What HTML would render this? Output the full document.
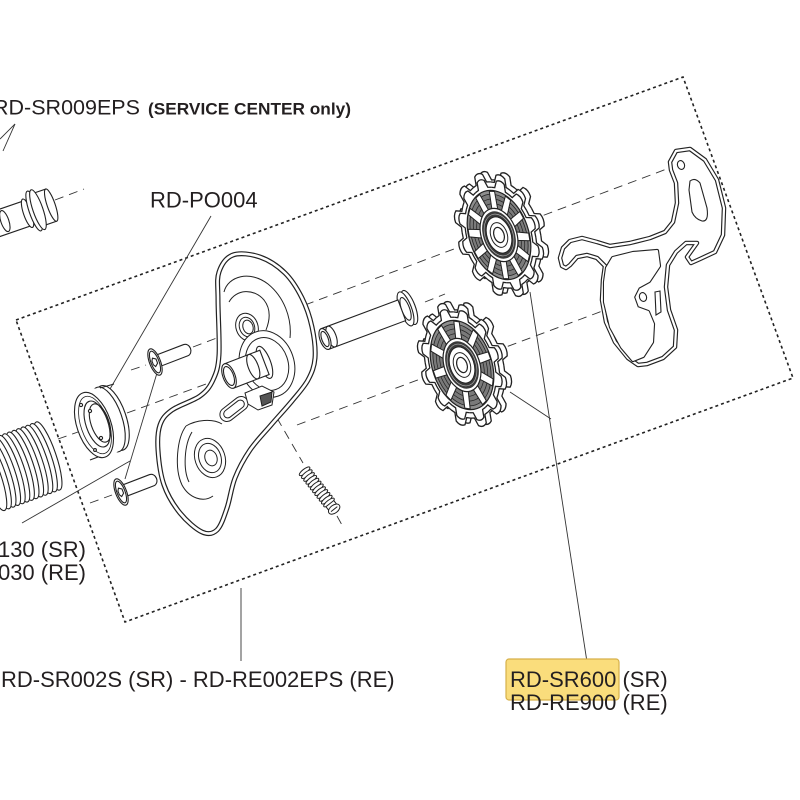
<!DOCTYPE html>
<html><head><meta charset="utf-8">
<style>
html,body{margin:0;padding:0;background:#fff;}
svg{display:block;}
svg *{vector-effect:non-scaling-stroke;}
text{font-family:"Liberation Sans",Arial,sans-serif;fill:#231f20;}
</style></head><body>
<svg width="800" height="800" viewBox="0 0 800 800" xmlns="http://www.w3.org/2000/svg">
<defs>
 <path id="tooth" d="M-14.49,-54.09 L-8.76,-55.31 L-6.5,-64 Q0,-68 6.5,-64 L8.76,-55.31 L14.49,-54.09"/>
 <g id="gear" fill="#fff" stroke="#222" stroke-width="1.3">
  <circle r="55.5" stroke="none"/>
  <use href="#tooth"/>
  <use href="#tooth" transform="rotate(30)"/>
  <use href="#tooth" transform="rotate(60)"/>
  <use href="#tooth" transform="rotate(90)"/>
  <use href="#tooth" transform="rotate(120)"/>
  <use href="#tooth" transform="rotate(150)"/>
  <use href="#tooth" transform="rotate(180)"/>
  <use href="#tooth" transform="rotate(210)"/>
  <use href="#tooth" transform="rotate(240)"/>
  <use href="#tooth" transform="rotate(270)"/>
  <use href="#tooth" transform="rotate(300)"/>
  <use href="#tooth" transform="rotate(330)"/>
 </g>
 <path id="spoke" d="M-4.5,-26 L-4,-46 L4,-46 L4.5,-26 Z"/>
 <g id="hub">
  <circle r="28" fill="#fff" stroke="#222" stroke-width="1.2"/>
  <circle r="25" fill="#3a3a3a"/>
  <circle r="22" fill="none" stroke="#bbb" stroke-width="0.6"/>
  <circle r="19" fill="#fff" stroke="#222" stroke-width="1"/>
  <circle r="13" fill="#fff" stroke="#222" stroke-width="1"/>
  <circle r="8" fill="#fff" stroke="#222" stroke-width="1.2"/>
 </g>
 <g id="pocket">
  <circle r="47" fill="#8e8e8e" stroke="#222" stroke-width="1.2"/>
  <circle r="43" fill="#7a7a7a" stroke="#222" stroke-width="0.8"/>
  <circle r="38" fill="none" stroke="#222" stroke-width="0.7"/>
  <circle r="33" fill="none" stroke="#222" stroke-width="0.7"/>
 </g>
 <g id="pu12">
  <use href="#gear"/>
  <use href="#gear" transform="scale(0.9)"/>
  <use href="#pocket"/>
  <g fill="#fff" stroke="#222" stroke-width="1">
   <use href="#spoke" transform="rotate(15)"/><use href="#spoke" transform="rotate(45)"/>
   <use href="#spoke" transform="rotate(75)"/><use href="#spoke" transform="rotate(105)"/>
   <use href="#spoke" transform="rotate(135)"/><use href="#spoke" transform="rotate(165)"/>
   <use href="#spoke" transform="rotate(195)"/><use href="#spoke" transform="rotate(225)"/>
   <use href="#spoke" transform="rotate(255)"/><use href="#spoke" transform="rotate(285)"/>
   <use href="#spoke" transform="rotate(315)"/><use href="#spoke" transform="rotate(345)"/>
  </g>
  <use href="#hub"/>
 </g>
 <g id="pu10">
  <use href="#gear"/>
  <use href="#gear" transform="scale(0.9)"/>
  <use href="#pocket"/>
  <g fill="#fff" stroke="#222" stroke-width="1">
   <use href="#spoke" transform="rotate(18)"/><use href="#spoke" transform="rotate(54)"/>
   <use href="#spoke" transform="rotate(90)"/><use href="#spoke" transform="rotate(126)"/>
   <use href="#spoke" transform="rotate(162)"/><use href="#spoke" transform="rotate(198)"/>
   <use href="#spoke" transform="rotate(234)"/><use href="#spoke" transform="rotate(270)"/>
   <use href="#spoke" transform="rotate(306)"/><use href="#spoke" transform="rotate(342)"/>
  </g>
  <use href="#hub"/>
 </g>
 <path id="plate" d="M233,255 C239.83,252.5 251.33,254 260,257 S278,266.17 285,273 S297.5,289 302,298 S309.83,317 312,327 S315.67,349.17 315,358 S311.83,372.83 308,380 S298.17,393.5 292,401 S278,416.83 271,425 S256,441.17 250,450 S238.83,468.33 235,478 S230,499.33 227,508 S221.17,526 217,530 S208.17,534.83 202,532 S186.33,520.83 180,513 S167.67,495.5 164,485 S158.67,460 158,450 S157.67,431.67 160,425 S165.33,414.83 172,410 S193.17,401 200,396 S209.83,386.83 213,380 S218.17,368.33 219,355 S218,313.83 218,300 S216.5,279.5 219,272 S226.17,257.5 233,255 Z"/>
 <path id="outer" d="M670,162 L676,151 L690,149 L705,160 L717,180 L724,208 L723,235 L715,252 L700,259 L691,263 L687,257 L697,243 L686,243 L676,252 L668,265 L666,287 L669,310 L676,330 L675,347 L663,358 L647,364 L638,365 L628,358 L615,342 L606,322 L602,300 L603,280 L605,266 L597,258 L587,255 L577,257 L570,265 L566,268 L562,266 L560,258 L563,248 L570,241 L582,238 L597,242 L610,246 L630,243 L650,238 L665,232 L673,222 L677,203 L676,183 L671,170 Z"/>
 <path id="opening" d="M607,268 L613,258 L633,253 L657,251 L659,266 L649,281 L638,287 L633,297 L637,308 L648,312 L653,324 L652,342 L643,356 L633,360 L622,347 L611,327 L605,302 L605,282 Z"/>
</defs>

<!-- dotted box -->
<polygon points="16,320 683,77 793,378 125,622" fill="none" stroke="#222" stroke-width="1.6" stroke-dasharray="3 3"/>

<!-- dashed axes -->
<g stroke="#333" stroke-width="0.9" stroke-dasharray="9 6" fill="none">
 <path d="M55,200 L84,189"/>
 <path d="M131,370 L146,365"/>
 <path d="M193,347 L222,336"/>
 <path d="M305,305 L680,164"/>
 <path d="M58,439 L78,432"/>
 <path d="M127,413 L217,380"/>
 <path d="M425,302 L445,294"/>
 <path d="M90,503 L112,495"/>
 <path d="M297,425 L640,297"/>
 <path d="M277,418 L303,463"/>
 <path d="M337,516 L342,525"/>
</g>

<!-- leaders -->
<g stroke="#333" stroke-width="0.9" fill="none">
 <path d="M15,124 L0,139"/>
 <path d="M15,124 L3,151"/>
 <path d="M211,216 L110,389"/>
 <path d="M22,523 L130,461"/>
 <path d="M157,373 L125,479"/>
 <path d="M241,588 L241,661"/>
 <path d="M530,292 L587,662"/>
 <path d="M510,392 L551,419"/>
</g>

<!-- barrel coil -->
<g fill="#fff" stroke="#222" stroke-width="1.1">
 <ellipse cx="48" cy="456" rx="8" ry="36" transform="rotate(-19 48 456)"/>
 <ellipse cx="43.4" cy="457.7" rx="8" ry="36" transform="rotate(-19 43.4 457.7)"/>
 <ellipse cx="38.8" cy="459.4" rx="8" ry="36" transform="rotate(-19 38.8 459.4)"/>
 <ellipse cx="34.2" cy="461.1" rx="8" ry="36" transform="rotate(-19 34.2 461.1)"/>
 <ellipse cx="29.6" cy="462.8" rx="8" ry="36" transform="rotate(-19 29.6 462.8)"/>
 <ellipse cx="25" cy="464.5" rx="8" ry="36" transform="rotate(-19 25 464.5)"/>
 <ellipse cx="20.4" cy="466.2" rx="8" ry="36" transform="rotate(-19 20.4 466.2)"/>
 <ellipse cx="15.8" cy="467.9" rx="8" ry="36" transform="rotate(-19 15.8 467.9)"/>
 <ellipse cx="11.2" cy="469.6" rx="8" ry="36" transform="rotate(-19 11.2 469.6)"/>
 <ellipse cx="6.6" cy="471.3" rx="8" ry="36" transform="rotate(-19 6.6 471.3)"/>
 <ellipse cx="2" cy="473" rx="8" ry="36" transform="rotate(-19 2 473)"/>
 <ellipse cx="-2.6" cy="474.7" rx="8" ry="36" transform="rotate(-19 -2.6 474.7)"/>
 <ellipse cx="-7.2" cy="476.4" rx="8" ry="36" transform="rotate(-19 -7.2 476.4)"/>
</g>

<!-- ring nut -->
<g fill="#fff" stroke="#222" stroke-width="1.1">
 <ellipse cx="112" cy="418" rx="14" ry="34" transform="rotate(-19 112 418)"/>
 <ellipse cx="108" cy="419.5" rx="14" ry="34" transform="rotate(-19 108 419.5)"/>
 <ellipse cx="104" cy="421" rx="15" ry="34" stroke="none" transform="rotate(-19 104 421)"/>
 <ellipse cx="100" cy="422.5" rx="16" ry="34" stroke="none" transform="rotate(-19 100 422.5)"/>
 <ellipse cx="96" cy="424" rx="17" ry="34" stroke="none" transform="rotate(-19 96 424)"/>
 <path d="M100,388 L114,384 M90,460 L106,454" fill="none"/>
 <ellipse cx="94" cy="425" rx="17" ry="34" transform="rotate(-19 94 425)"/>
 <ellipse cx="95" cy="425" rx="14" ry="30" fill="none" stroke-width="0.8" transform="rotate(-19 95 425)"/>
 <ellipse cx="97" cy="424" rx="11" ry="24" transform="rotate(-19 97 424)"/>
 <ellipse cx="100" cy="423" rx="9" ry="20" fill="none" transform="rotate(-19 100 423)"/>
 <circle cx="81" cy="405" r="1.6"/>
 <circle cx="90" cy="411" r="1.6"/>
 <circle cx="101" cy="438" r="1.6"/>
 <circle cx="95" cy="450" r="1.4"/>
</g>

<!-- top-left bolt -->
<g transform="translate(37,210) rotate(-19)" fill="#fff" stroke="#222" stroke-width="1.1">
 <rect x="-55" y="-13" width="50" height="26"/>
 <ellipse cx="-34" cy="0" rx="4" ry="11" fill="none"/>
 <ellipse cx="-10" cy="0" rx="4" ry="15"/>
 <rect x="2" y="-17" width="13" height="34"/>
 <ellipse cx="15" cy="0" rx="4" ry="17"/>
 <ellipse cx="-3" cy="0" rx="5" ry="21"/>
 <ellipse cx="1" cy="0" rx="5" ry="21"/>
</g>

<!-- screws -->
<g fill="#fff" stroke="#222" stroke-width="1.1">
 <g transform="translate(155,362) rotate(-21)">
  <path d="M0,-6 L33,-6 A5,6 0 0 1 33,6 L0,6 Z"/>
  <ellipse cx="0" cy="0" rx="5.5" ry="14"/>
  <ellipse cx="0" cy="0" rx="4" ry="11.5" fill="none"/>
  <polygon points="-1,-4.5 2,-2.5 2,2 -1,4.5 -2.5,2 -2.5,-2"/>
 </g>
 <g transform="translate(121,492) rotate(-21)">
  <path d="M0,-6 L33,-6 A5,6 0 0 1 33,6 L0,6 Z"/>
  <ellipse cx="0" cy="0" rx="5.5" ry="14"/>
  <ellipse cx="0" cy="0" rx="4" ry="11.5" fill="none"/>
  <polygon points="-1,-4.5 2,-2.5 2,2 -1,4.5 -2.5,2 -2.5,-2"/>
 </g>
</g>

<!-- inner cage plate -->
<use href="#plate" fill="#fff" stroke="#222" stroke-width="5"/>
<use href="#plate" fill="none" stroke="#fff" stroke-width="2.6"/>
<g fill="none" stroke="#222" stroke-width="1">
 <path d="M224,292 C228,276 250,270 268,284 C284,297 292,318 290,338"/>
 <path d="M229,302 C236,289 254,288 264,300 C271,309 270,320 266,330"/>
 <ellipse cx="247" cy="327" rx="11" ry="14" fill="#fff" transform="rotate(-19 247 327)"/>
 <ellipse cx="247" cy="327" rx="7.5" ry="10" transform="rotate(-19 247 327)"/>
 <ellipse cx="248" cy="327" rx="5" ry="7" fill="#fff" transform="rotate(-19 248 327)"/>
 <ellipse cx="267" cy="364" rx="27" ry="34" fill="#fff" transform="rotate(-19 267 364)"/>
 <ellipse cx="267" cy="364" rx="21" ry="27" transform="rotate(-19 267 364)"/>
 <rect x="218" y="402" width="32" height="14" rx="7" fill="#fff" transform="rotate(-38 234 409)"/>
 <rect x="222" y="405" width="24" height="8" rx="4" transform="rotate(-38 234 409)"/>
 <polygon points="245,393 262,386 274,392 272,405 258,410 248,404" fill="#fff"/>
 <polygon points="260,396 272,392 271,402 262,406" fill="#555"/>
 <path d="M186,426 C177,438 174,468 182,485 C189,498 203,503 213,496"/>
 <path d="M186,426 C196,420 212,418 222,424"/>
 <path d="M192,432 C184,445 183,470 189,482"/>
 <ellipse cx="210" cy="458" rx="15" ry="20" fill="#fff" transform="rotate(-19 210 458)"/>
 <ellipse cx="210" cy="458" rx="11" ry="15" transform="rotate(-19 210 458)"/>
 <ellipse cx="211" cy="458" rx="6" ry="8" fill="#fff" transform="rotate(-19 211 458)"/>
</g>
<!-- pivot shaft -->
<g transform="translate(229,376) rotate(-21)" fill="#fff" stroke="#222" stroke-width="1.1">
 <ellipse cx="38" cy="0" rx="6" ry="17"/>
 <rect x="0" y="-13" width="38" height="26"/>
 <ellipse cx="26" cy="0" rx="5" ry="13" fill="none"/>
 <ellipse cx="0" cy="0" rx="6" ry="13"/>
 <ellipse cx="0" cy="0" rx="4.5" ry="10" fill="none"/>
</g>

<!-- small spring screw -->
<g transform="translate(320,491) rotate(52)" fill="#fff" stroke="#222" stroke-width="1">
 <ellipse cx="-25" cy="0" rx="2.2" ry="6.5"/>
 <ellipse cx="-21.4" cy="0" rx="2.2" ry="6.5"/>
 <ellipse cx="-17.8" cy="0" rx="2.2" ry="6.5"/>
 <ellipse cx="-14.2" cy="0" rx="2.2" ry="6.5"/>
 <ellipse cx="-10.6" cy="0" rx="2.2" ry="6.5"/>
 <ellipse cx="-7" cy="0" rx="2.2" ry="6.5"/>
 <ellipse cx="-3.4" cy="0" rx="2.2" ry="6.5"/>
 <ellipse cx="0.2" cy="0" rx="2.2" ry="6.5"/>
 <ellipse cx="3.8" cy="0" rx="2.2" ry="6.5"/>
 <ellipse cx="7.4" cy="0" rx="2.2" ry="6.5"/>
 <ellipse cx="11" cy="0" rx="2.2" ry="6.5"/>
 <ellipse cx="14.6" cy="0" rx="2.2" ry="6.5"/>
 <rect x="16" y="-5" width="7" height="10"/>
 <ellipse cx="23" cy="0" rx="4" ry="6.5"/>
 <path d="M23,-4 L23,4" fill="none"/>
</g>

<!-- axle -->
<g transform="translate(325,339) rotate(-20.5)" fill="#fff" stroke="#222" stroke-width="1.1">
 <ellipse cx="90" cy="0" rx="6" ry="18"/>
 <ellipse cx="86" cy="0" rx="6" ry="18"/>
 <ellipse cx="86" cy="0" rx="4" ry="12" fill="none"/>
 <rect x="0" y="-11" width="82" height="22"/>
 <ellipse cx="7" cy="0" rx="4.5" ry="11" fill="none"/>
 <ellipse cx="0" cy="0" rx="5" ry="11"/>
 <ellipse cx="0" cy="0" rx="3.2" ry="8" fill="none"/>
</g>

<!-- outer cage plate -->
<use href="#outer" fill="#fff" stroke="#222" stroke-width="4.5" stroke-linejoin="round"/>
<use href="#outer" fill="none" stroke="#fff" stroke-width="2.2" stroke-linejoin="round"/>
<use href="#opening" fill="#fff" stroke="#222" stroke-width="4.2" stroke-linejoin="round"/>
<use href="#opening" fill="#fff" stroke="#fff" stroke-width="2" stroke-linejoin="round"/>
<g fill="#fff" stroke="#222" stroke-width="1.1">
 <path d="M690,181 Q695,177 700,183 L707,208 Q709,222 702,221 Q695,219 692,212 L689,190 Z"/>
 <ellipse cx="681" cy="165" rx="3.5" ry="4.5" transform="rotate(-19 681 165)"/>
 <ellipse cx="643" cy="297" rx="3.5" ry="4.5" transform="rotate(-19 643 297)"/>
 <path d="M655,292 L660,291 L661,312 L656,315 Z"/>
</g>

<!-- pulleys -->
<use href="#gear" transform="translate(504,233) rotate(-19) scale(0.63,0.98)"/>
<use href="#pu12" transform="translate(499,235) rotate(-19) scale(0.63,0.98)"/>
<use href="#gear" transform="translate(467,363) rotate(-19) scale(0.63,0.98)"/>
<use href="#pu10" transform="translate(462,365) rotate(-19) scale(0.63,0.98)"/>

<!-- labels -->
<text x="-7" y="114.5" font-size="21.5" textLength="147" lengthAdjust="spacingAndGlyphs">RD-SR009EPS</text>
<text x="148" y="114.5" font-size="17" font-weight="bold" textLength="203" lengthAdjust="spacingAndGlyphs">(SERVICE CENTER only)</text>
<text x="150" y="207.5" font-size="22">RD-PO004</text>
<text x="86" y="557" font-size="22" text-anchor="end">130 (SR)</text>
<text x="86" y="580" font-size="22" text-anchor="end">030 (RE)</text>
<text x="1" y="687" font-size="22">RD-SR002S (SR) - RD-RE002EPS (RE)</text>
<rect x="506" y="659" width="113" height="41" rx="3" fill="#fadd7c" stroke="#d6b04a" stroke-width="1.2"/>
<text x="510" y="687" font-size="22">RD-SR600 (SR)</text>
<text x="510" y="710" font-size="22">RD-RE900 (RE)</text>
</svg>
</body></html>
